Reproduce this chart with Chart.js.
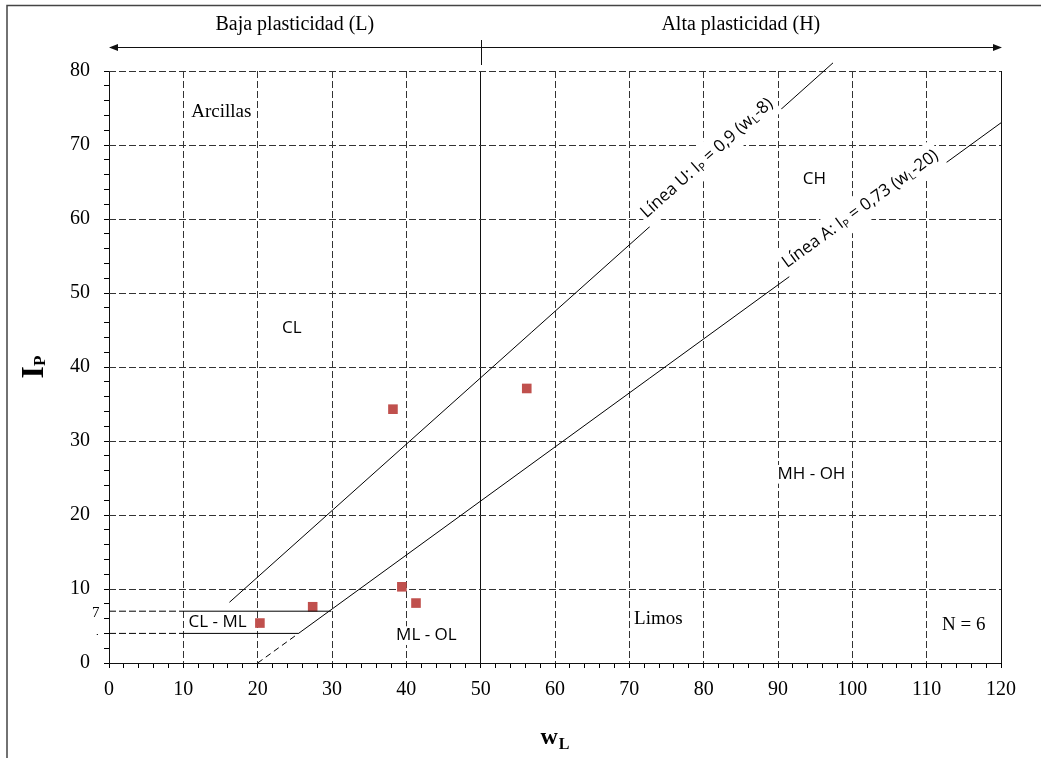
<!DOCTYPE html>
<html>
<head>
<meta charset="utf-8">
<script src="https://cdn.jsdelivr.net/npm/chart.js@4"></script>
<style>
  html, body { margin: 0; padding: 0; background: #fff; }
  #wrap { width: 1041px; height: 758px; }
</style>
</head>
<body>
<div id="wrap"><canvas id="plasticChart"></canvas></div>
<script>
// Ensayos (wL, IP)
const wL = [20.3, 27.4, 38.2, 39.4, 41.3, 56.2];
const IP = [5.4, 7.6, 34.3, 10.3, 8.1, 37.1];

// Linea U y Linea A
const uLineW = [16.2, 97.4];
const uLineI = [8.2, 81.1];
const aLineW = [25.5, 120];
const aLineI = [4, 73];
const aDashW = [20, 25.5];
const aDashI = [0, 4];

// zona CL-ML
const band7W = [10, 29.9];
const band7I = [7, 7];
const band4W = [10, 25.5];
const band4I = [4, 4];
const lead7W = [0, 10];
const lead4W = [0, 10];

const xMin = 0, xMax = 120, yMin = 0, yMax = 80;

const SERIF = '"Liberation Serif", "Times New Roman", serif';
const SANS = '"Open Sans", "Noto Sans", sans-serif';

const zoneLabels = [
    { text: "Arcillas", x: 15.1, y: 74.4, family: SERIF, size: 19 },
    { text: "CL", x: 24.6, y: 45.3, family: SANS, size: 17 },
    { text: "CH", x: 94.9, y: 65.4, family: SANS, size: 17 },
    { text: "MH - OH", x: 94.5, y: 25.5, family: SANS, size: 17 },
    { text: "ML - OL", x: 42.7, y: 3.7, family: SANS, size: 17 },
    { text: "CL - ML", x: 14.6, y: 5.5, family: SANS, size: 17 },
    { text: "Limos", x: 73.9, y: 5.9, family: SERIF, size: 19 },
    { text: "N = 6", x: 115.0, y: 5.1, family: SERIF, size: 19 },
];

const toXY = (xs, ys) => xs.map((v, i) => ({ x: v, y: ys[i] }));

function lineSet(xs, ys, dash, clip) {
    return {
        type: "scatter",
        data: toXY(xs, ys),
        showLine: true,
        borderColor: "#000",
        borderWidth: 1,
        borderDash: dash || [],
        pointRadius: 0,
        pointHoverRadius: 0,
        fill: false,
        clip: clip === undefined ? 2 : clip,
    };
}

// texto con subindices
function drawParts(ctx, parts, x, y, size, family, weight, align) {
    const subSize = Math.round(size * 0.65);
    const widths = parts.map(p => {
        ctx.font = `${weight} ${p.sub ? subSize : size}px ${family}`;
        return ctx.measureText(p.t).width;
    });
    const total = widths.reduce((a, b) => a + b, 0);
    let cx = align === "center" ? x - total / 2 : align === "right" ? x - total : x;
    ctx.textAlign = "left";
    ctx.textBaseline = "middle";
    parts.forEach((p, i) => {
        ctx.font = `${weight} ${p.sub ? subSize : size}px ${family}`;
        ctx.fillText(p.t, cx, y + (p.sub ? size * 0.25 : 0));
        cx += widths[i];
    });
    return total;
}

function measureParts(ctx, parts, size, family, weight) {
    const subSize = Math.round(size * 0.65);
    return parts.reduce((acc, p) => {
        ctx.font = `${weight} ${p.sub ? subSize : size}px ${family}`;
        return acc + ctx.measureText(p.t).width;
    }, 0);
}

// etiqueta girada sobre una recta
function lineLabel(chart, xs, ys, at, parts) {
    const { ctx, scales: { x, y } } = chart;
    const x1 = x.getPixelForValue(xs[0]), y1 = y.getPixelForValue(ys[0]);
    const x2 = x.getPixelForValue(xs[1]), y2 = y.getPixelForValue(ys[1]);
    const ang = Math.atan2(y2 - y1, x2 - x1);
    const t = (at - xs[0]) / (xs[1] - xs[0]);
    const px = x1 + (x2 - x1) * t, py = y1 + (y2 - y1) * t;
    const size = 17;
    const w = measureParts(ctx, parts, size, SANS, "normal");
    ctx.save();
    ctx.translate(px, py);
    ctx.rotate(ang);
    ctx.translate(0, -13);
    ctx.fillStyle = "#fff";
    ctx.fillRect(-w / 2 - 3, -15, w + 6, 30);
    ctx.fillStyle = "#000";
    drawParts(ctx, parts, 0, 0, size, SANS, "normal", "center");
    ctx.restore();
}

const decor = {
    id: "decor",
    beforeDraw(chart) {
        const { ctx, width, height } = chart;
        ctx.save();
        ctx.fillStyle = "#fff";
        ctx.fillRect(0, 0, width, height);
        ctx.restore();
    },
    afterDatasetsDraw(chart) {
        const { ctx, scales: { x, y } } = chart;
        ctx.save();

        // zonas
        zoneLabels.forEach(l => {
            const px = x.getPixelForValue(l.x), py = y.getPixelForValue(l.y);
            ctx.font = `${l.size}px ${l.family}`;
            const w = ctx.measureText(l.text).width;
            ctx.fillStyle = "#fff";
            ctx.fillRect(px - w / 2 - 2, py - l.size * 0.55, w + 4, l.size * 1.1);
            ctx.fillStyle = "#000";
            ctx.textAlign = "center";
            ctx.textBaseline = "middle";
            ctx.fillText(l.text, px, py);
        });

        lineLabel(chart, uLineW, uLineI, 81.6, [
            { t: "Línea U: I" }, { t: "P", sub: true }, { t: " = 0,9 (w" }, { t: "L", sub: true }, { t: "-8)" },
        ]);
        lineLabel(chart, aLineW, aLineI, 102.1, [
            { t: "Línea A: I" }, { t: "P", sub: true }, { t: " = 0,73 (w" }, { t: "L", sub: true }, { t: "-20)" },
        ]);
        ctx.restore();
    },
    afterDraw(chart) {
        const { ctx, width, height, chartArea: area, scales: { x, y } } = chart;
        ctx.save();

        // marco exterior
        ctx.strokeStyle = "#444";
        ctx.lineWidth = 1.5;
        ctx.beginPath();
        ctx.moveTo(width, 5.5);
        ctx.lineTo(7, 5.5);
        ctx.lineTo(7, height);
        ctx.stroke();

        // flecha de plasticidad
        const ay = area.top - 23.5;
        const xl = x.getPixelForValue(xMin), xr = x.getPixelForValue(xMax);
        const x50 = Math.round(x.getPixelForValue(50)) + 0.5;
        ctx.strokeStyle = "#111";
        ctx.fillStyle = "#111";
        ctx.lineWidth = 1;
        ctx.beginPath();
        ctx.moveTo(xl + 4, ay);
        ctx.lineTo(xr - 4, ay);
        ctx.moveTo(x50, area.top - 31);
        ctx.lineTo(x50, area.top - 6);
        ctx.stroke();
        ctx.beginPath();
        ctx.moveTo(xl, ay); ctx.lineTo(xl + 9, ay - 3.5); ctx.lineTo(xl + 9, ay + 3.5); ctx.closePath();
        ctx.moveTo(xr + 1, ay); ctx.lineTo(xr - 8, ay - 3.5); ctx.lineTo(xr - 8, ay + 3.5); ctx.closePath();
        ctx.fill();

        ctx.fillStyle = "#000";
        ctx.font = `20px ${SERIF}`;
        ctx.textAlign = "center";
        ctx.textBaseline = "alphabetic";
        ctx.fillText("Baja plasticidad (L)", x.getPixelForValue(25), 30);
        ctx.fillText("Alta plasticidad (H)", x.getPixelForValue(85), 30);

        // etiquetas extra del eje y
        ctx.font = `15px ${SERIF}`;
        ctx.textAlign = "right";
        ctx.textBaseline = "middle";
        ctx.fillText("7", 99.5, y.getPixelForValue(7) + 1.5);
        ctx.save();
        ctx.beginPath();
        ctx.rect(80, y.getPixelForValue(4) - 10, 25, 11.5);
        ctx.clip();
        ctx.fillText("4", 99.5, y.getPixelForValue(4) + 7);
        ctx.restore();

        // titulos de ejes
        const cxm = (area.left + area.right) / 2;
        ctx.textBaseline = "alphabetic";
        ctx.font = `bold 24px ${SERIF}`;
        const ww = ctx.measureText("w").width;
        ctx.font = `bold 16px ${SERIF}`;
        const wl = ctx.measureText("L").width;
        const sx = cxm - (ww + wl + 1) / 2;
        ctx.textAlign = "left";
        ctx.font = `bold 24px ${SERIF}`;
        ctx.fillText("w", sx, 744);
        ctx.font = `bold 16px ${SERIF}`;
        ctx.fillText("L", sx + ww + 1, 749);

        const cym = (area.top + area.bottom) / 2;
        ctx.save();
        ctx.translate(43, cym);
        ctx.rotate(-Math.PI / 2);
        ctx.font = `bold 32px ${SERIF}`;
        const iw = ctx.measureText("I").width;
        ctx.font = `bold 17px ${SERIF}`;
        const pw = ctx.measureText("P").width;
        const s0 = -(iw + pw) / 2;
        ctx.font = `bold 32px ${SERIF}`;
        ctx.fillText("I", s0, 0);
        ctx.font = `bold 17px ${SERIF}`;
        ctx.fillText("P", s0 + iw, 2);
        ctx.restore();

        ctx.restore();
    },
};

const solidX = [0, 50, 120];

new Chart(document.getElementById("plasticChart"), {
    type: "scatter",
    data: {
        datasets: [
            lineSet(lead7W, band7I, [7, 3]),
            lineSet(lead4W, band4I, [7, 3]),
            lineSet(band7W, band7I),
            lineSet(band4W, band4I),
            lineSet(aDashW, aDashI, [6, 4]),
            lineSet(aLineW, aLineI),
            lineSet(uLineW, uLineI, [], false),
            {
                label: "Ensayos",
                data: toXY(wL, IP),
                pointStyle: "rect",
                pointRadius: 6.8,
                pointHoverRadius: 6.8,
                backgroundColor: "#C0504D",
                borderWidth: 0,
            },
        ],
    },
    options: {
        responsive: true,
        maintainAspectRatio: false,
        animation: false,
        events: [],
        layout: { padding: { top: 71, right: 40, left: 0, bottom: 0 } },
        plugins: {
            legend: { display: false },
            tooltip: { enabled: false },
        },
        scales: {
            x: {
                type: "linear",
                min: xMin,
                max: xMax,
                afterFit: s => { s.height = 95; },
                ticks: {
                    stepSize: 2,
                    autoSkip: false,
                    maxRotation: 0,
                    padding: 10,
                    color: "#000",
                    font: { family: SERIF, size: 20 },
                    callback: v => (v % 10 === 0 ? v : ""),
                },
                grid: {
                    color: c => (c.tick && c.tick.value % 10 === 0 ? (solidX.includes(c.tick.value) ? "#111" : "#333") : "transparent"),
                    tickColor: "#000",
                    tickLength: 5,
                    lineWidth: 1,
                },
                border: {
                    display: false,
                    dash: c => (c.tick && solidX.includes(c.tick.value) ? [] : [7, 3]),
                },
            },
            y: {
                type: "linear",
                min: yMin,
                max: yMax,
                afterFit: s => { s.width = 109; },
                ticks: {
                    stepSize: 2,
                    autoSkip: false,
                    padding: 14,
                    color: "#000",
                    font: { family: SERIF, size: 20 },
                    callback: v => (v % 10 === 0 ? v : ""),
                },
                grid: {
                    color: c => (c.tick && c.tick.value % 10 === 0 ? (c.tick.value === 0 ? "#111" : "#333") : "transparent"),
                    tickColor: "#000",
                    tickLength: 5,
                    lineWidth: 1,
                },
                border: {
                    display: false,
                    dash: c => (c.tick && c.tick.value === 0 ? [] : [7, 3]),
                },
            },
        },
    },
    plugins: [decor],
});
</script>
</body>
</html>
